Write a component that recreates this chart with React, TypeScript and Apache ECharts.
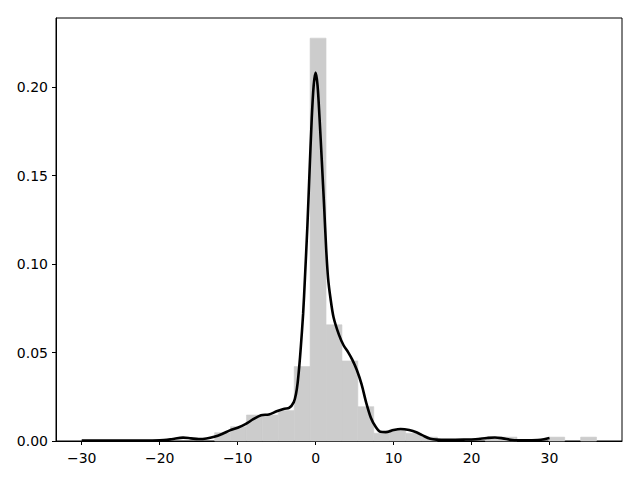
import React, { useEffect, useRef } from "react";
import * as echarts from "echarts";

// Histogram (density) — bins start at binStart, each binWidth wide
const binStart = -12.95;
const binWidth = 2.041;
const binHeights = [
  0.0047, 0.0081, 0.0147, 0.0147, 0.0172, 0.0421, 0.2278, 0.0657, 0.0453, 0.0194,
  0.0044, 0.0066, 0.0044, 0.0022, 0, 0, 0, 0.0022, 0.0022, 0, 0, 0.0022, 0, 0.0022,
];

// KDE curve samples
const kdeX = [
  -30, -25, -20, -18.5, -17, -16, -15, -14, -13, -12, -11, -10, -9, -8, -7, -6, -5, -4, -3.4,
  -2.8, -2.5, -2.3, -2.1, -1.9, -1.6, -1.37, -1.06, -0.8, -0.5, -0.25, 0, 0.25, 0.5, 0.8, 1.1,
  1.35, 1.6, 1.9, 2.3, 3.0, 3.6, 4.2, 4.7, 5.3, 5.9, 6.5, 7.1, 7.7, 8.3, 9.0, 10.0, 10.9, 12.0,
  13.0, 13.8, 14.7, 15.5, 17, 19, 20.5, 22, 23, 24, 25.2, 27, 28.5, 29.3, 30,
];
const kdeY = [
  0.0002, 0.0002, 0.0004, 0.001, 0.0019, 0.0015, 0.0011, 0.0014, 0.0024, 0.004, 0.006, 0.0075,
  0.0095, 0.0123, 0.0146, 0.015, 0.0168, 0.0183, 0.0187, 0.022, 0.027, 0.033, 0.042, 0.053,
  0.072, 0.092, 0.121, 0.15, 0.182, 0.201, 0.2083, 0.201, 0.183, 0.158, 0.132, 0.109, 0.092,
  0.081, 0.07, 0.06, 0.054, 0.05, 0.046, 0.04, 0.032, 0.0215, 0.013, 0.008, 0.0052, 0.005,
  0.0062, 0.0068, 0.0062, 0.0048, 0.003, 0.0013, 0.0008, 0.0007, 0.0008, 0.001, 0.0017, 0.002,
  0.0015, 0.0006, 0.0004, 0.0006, 0.001, 0.0017,
];

const xTicks = [-30, -20, -10, 0, 10, 20, 30];
const yTicks = [0, 0.05, 0.1, 0.15, 0.2];

const font = "DejaVu Sans";

export default function App() {
  const ref = useRef<HTMLDivElement>(null);
  useEffect(() => {
    if (!ref.current) return;
    const chart = echarts.init(ref.current, undefined, { renderer: "svg" });
    const histData = binHeights.map((h, i) => [
      binStart + i * binWidth,
      binStart + (i + 1) * binWidth,
      h,
    ]);
    const kdeData = kdeX.map((x, i) => [x, kdeY[i]]);
    chart.setOption({
      animation: false,
      grid: {
        left: 56,
        right: 18,
        top: 18,
        bottom: 39,
        show: true,
        borderColor: "#000",
        borderWidth: 1,
      },
      xAxis: {
        type: "value",
        min: -33.3,
        max: 39.3,
        splitLine: { show: false },
        axisLine: { onZero: false, lineStyle: { color: "#000", width: 1 } },
        axisTick: {
          show: true,
          length: 4,
          lineStyle: { color: "#000" },
          customValues: xTicks,
        },
        axisLabel: {
          customValues: xTicks,
          color: "#000",
          fontFamily: font,
          fontSize: 14,
          margin: 10,
          formatter: (v: number) => String(v).replace("-", "\u2212"),
        },
      },
      yAxis: {
        type: "value",
        min: 0,
        max: 0.2392,
        splitLine: { show: false },
        axisLine: { show: true, onZero: false, lineStyle: { color: "#000", width: 1 } },
        axisTick: {
          show: true,
          length: 4,
          lineStyle: { color: "#000" },
          customValues: yTicks,
        },
        axisLabel: {
          customValues: yTicks,
          color: "#000",
          fontFamily: font,
          fontSize: 14,
          margin: 8,
          formatter: (v: number) => v.toFixed(2),
        },
      },
      series: [
        {
          type: "custom",
          data: histData,
          encode: { x: [0, 1], y: 2 },
          renderItem: (params: any, api: any) => {
            const x0 = api.value(0);
            const x1 = api.value(1);
            const h = api.value(2);
            const p0 = api.coord([x0, h]);
            const p1 = api.coord([x1, 0]);
            return {
              type: "rect",
              shape: { x: p0[0], y: p0[1], width: p1[0] - p0[0], height: p1[1] - p0[1] },
              style: { fill: "#cccccc", stroke: h > 0 ? "#cccccc" : "none", lineWidth: 0.6 },
            };
          },
          z: 1,
        },
        {
          type: "line",
          data: kdeData,
          smooth: 0.3,
          showSymbol: false,
          symbol: "none",
          lineStyle: { color: "#000", width: 2.6 },
          z: 3,
        },
      ],
    });
    return () => chart.dispose();
  }, []);
  return <div ref={ref} style={{ width: 640, height: 480, margin: -8 }} />;
}
